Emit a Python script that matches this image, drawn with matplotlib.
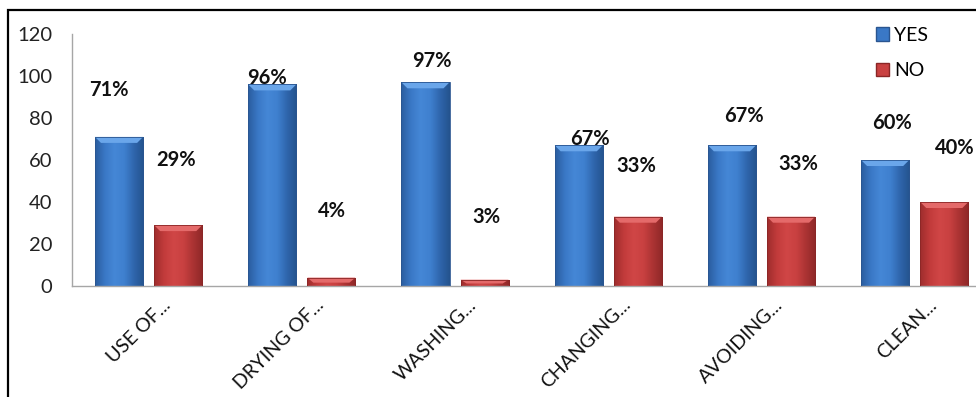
import numpy as np
import matplotlib
matplotlib.use("Agg")
import matplotlib.pyplot as plt
from matplotlib.patches import Rectangle, Polygon, Patch
from matplotlib.colors import LinearSegmentedColormap

# ---- data ----
categories = ["USE OF...", "DRYING OF...", "WASHING...", "CHANGING...", "AVOIDING...", "CLEAN..."]
yes_values = [71, 96, 97, 67, 67, 60]
no_values = [29, 4, 3, 33, 33, 40]
yes_labels = ["71%", "96%", "97%", "67%", "67%", "60%"]
no_labels = ["29%", "4%", "3%", "33%", "33%", "40%"]
y_ticks = [0, 20, 40, 60, 80, 100, 120]

# label offsets (pixels) from the top centre of each bar
yes_label_offsets = [(-10, 47), (-5, 6), (6, 21), (11, 6), (12, 29), (7, 37)]
no_label_offsets = [(-2, 65), (1, 67), (1.5, 63), (-2, 51), (7, 53), (10, 54)]

W, H = 976, 397
fig = plt.figure(figsize=(W / 100, H / 100), dpi=100)
fig.patch.set_facecolor("white")

ax_left, ax_right = 72, 976
ax_top, ax_bottom = 34, 286
ax = fig.add_axes([ax_left / W, (H - ax_bottom) / H,
                   (ax_right - ax_left) / W, (ax_bottom - ax_top) / H])
ax.set_xlim(-0.5, 5.40)
ax.set_ylim(0, 120)

bar_w = 0.314
off = 0.193

blue_cmap = LinearSegmentedColormap.from_list(
    "b", ["#2a5d9f", "#3a78c6", "#4587d6", "#3f80cf", "#2f66ad", "#24538e"])
red_cmap = LinearSegmentedColormap.from_list(
    "r", ["#9e2d2d", "#c23b3b", "#d04646", "#c94141", "#ab3333", "#8e2828"])

grad = np.linspace(0, 1, 64).reshape(1, -1)
px_x = 1 / 153.0   # one pixel in category units
px_y = 120 / 252.0  # one pixel in value units


def bevel_bar(x_center, h, cmap, top_col, side_col):
    x0, x1 = x_center - bar_w / 2, x_center + bar_w / 2
    rect = Rectangle((x0, 0), bar_w, h, facecolor="none", edgecolor="none")
    ax.add_patch(rect)
    im = ax.imshow(grad, cmap=cmap, extent=(x0, x1, 0, h), aspect="auto",
                   interpolation="bicubic", zorder=2)
    im.set_clip_path(rect)
    dh = min(6 * px_y, h * 0.6)
    dx = 6 * px_x
    ax.add_patch(Polygon([(x0, h), (x1, h), (x1 - dx, h - dh), (x0 + dx, h - dh)],
                         closed=True, facecolor=top_col, edgecolor="none", zorder=3))
    ax.add_patch(Rectangle((x0, 0), bar_w, h, facecolor="none",
                           edgecolor=side_col, linewidth=0.6, zorder=4))


x = np.arange(len(categories))
for i in x:
    bevel_bar(i - off, yes_values[i], blue_cmap, "#6aa6ea", "#2a5590")
    bevel_bar(i + off, no_values[i], red_cmap, "#e46a6a", "#8a2626")

label_font = dict(family="Lato", fontweight="bold", fontsize=14.5, color="#111111")
for i in x:
    ax.annotate(yes_labels[i], (i - off, yes_values[i]), xytext=yes_label_offsets[i],
                textcoords="offset pixels", ha="center", va="center", zorder=6, **label_font)
    ax.annotate(no_labels[i], (i + off, no_values[i]), xytext=no_label_offsets[i],
                textcoords="offset pixels", ha="center", va="center", zorder=6, **label_font)

# axes styling
for s in ["top", "right"]:
    ax.spines[s].set_visible(False)
for s in ["left", "bottom"]:
    ax.spines[s].set_color("#a6a6a6")
    ax.spines[s].set_linewidth(1.0)
ax.set_yticks(y_ticks)
ax.set_yticklabels([str(t) for t in y_ticks], family="Lato", fontsize=14.5, color="#222222")
ax.tick_params(axis="y", length=0, pad=14)
ax.set_xticks([])

# rotated category labels
for i, c in enumerate(categories):
    ax.annotate(c, (i, 0), xycoords=("data", "axes fraction"), xytext=(19, -16),
                textcoords="offset pixels", rotation=45, rotation_mode="anchor",
                ha="right", va="center", family="Lato", fontsize=14, color="#111111")

# legend
handles = [Patch(facecolor="#3a78c6", edgecolor="#2a5590", label="YES"),
           Patch(facecolor="#c94141", edgecolor="#8a2626", label="NO")]
leg = fig.legend(handles=handles, loc="upper left", bbox_to_anchor=(866 / W, 1 - 17 / H),
                 frameon=False, prop=dict(family="Lato", size=14),
                 handlelength=0.7, handleheight=0.7, handletextpad=0.25,
                 labelspacing=0.95, borderpad=0)

# outer frame
fig.add_artist(Rectangle((8 / W, -0.05), 1.1, (H - 10) / H + 0.05,
                         transform=fig.transFigure, facecolor="none",
                         edgecolor="black", linewidth=1.6, zorder=10))

fig.savefig("out.png", dpi=100)
